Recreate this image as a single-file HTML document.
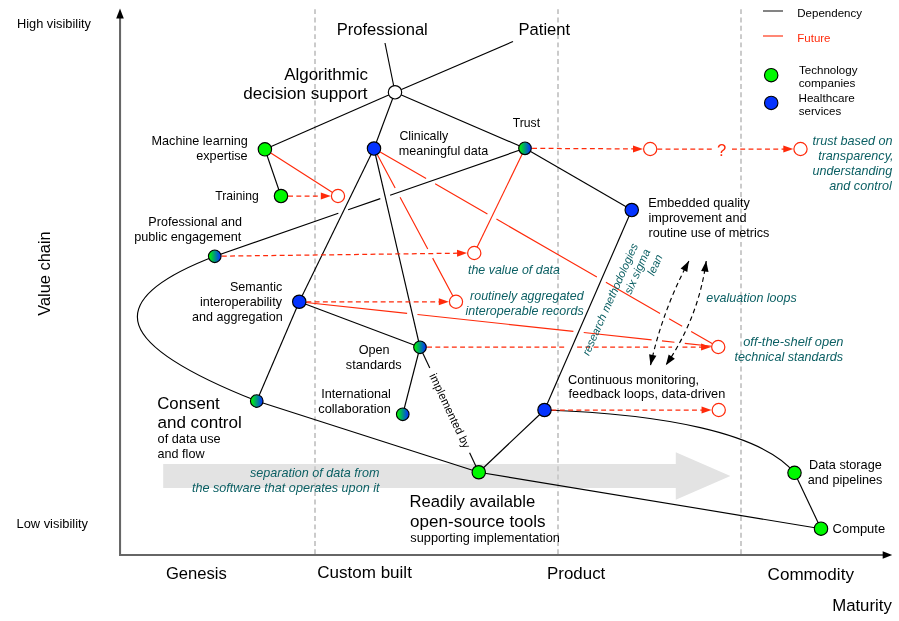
<!DOCTYPE html>
<html><head><meta charset="utf-8"><title>Wardley map</title>
<style>html,body{margin:0;padding:0;background:#fff;}svg{display:block;font-family:"Liberation Sans",sans-serif;will-change:transform;}</style>
</head><body>
<svg width="899" height="621" viewBox="0 0 899 621">
<defs><linearGradient id="gb" x1="0" y1="0" x2="1" y2="0"><stop offset="0.05" stop-color="#00f900"/><stop offset="0.95" stop-color="#0433ff"/></linearGradient></defs>
<rect width="899" height="621" fill="#fff"/>
<polygon points="163.2,464 675.8,464 675.8,452.2 730.4,475.95 675.8,499.7 675.8,487.9 163.2,487.9" fill="#e3e3e3"/>
<line x1="315" y1="9.2" x2="315" y2="553.9" stroke="#cbcbcb" stroke-width="2" stroke-dasharray="4.9 3.41"/>
<line x1="558" y1="9.2" x2="558" y2="553.9" stroke="#cbcbcb" stroke-width="2" stroke-dasharray="4.9 3.41"/>
<line x1="741" y1="9.2" x2="741" y2="553.9" stroke="#cbcbcb" stroke-width="2" stroke-dasharray="4.9 3.41"/>
<path d="M120.05 17V554.9H884" stroke="#666" stroke-width="2.05" fill="none"/>
<polygon points="120,8.6 116.2,18.4 123.8,18.4" fill="#000"/>
<polygon points="892.2,554.95 882.7,551.2 882.7,558.7" fill="#000"/>
<path d="M379.72 151.8L426.11 178.54M435.12 183.74L487.43 213.91M496.44 219.1L596.88 277.01M605.89 282.21L660.08 313.46M669.09 318.65L682.16 326.19M691.17 331.38L712.53 343.7" stroke="#ff2a0a" stroke-width="1.15" fill="none"/>
<path d="M305.81 302.46L407.12 313.4M417.46 314.52L573.39 331.36M583.73 332.47L651.63 339.81M661.97 340.92L674.45 342.27M684.79 343.39L711.69 346.29" stroke="#ff2a0a" stroke-width="1.15" fill="none"/>
<path d="M377.11 154.32L395.16 188.04M400.06 197.21L427.76 248.97M432.66 258.14L452.89 295.93" stroke="#ff2a0a" stroke-width="1.15" fill="none"/>
<line x1="525" y1="148.3" x2="474.25" y2="253" stroke="#ff2a0a" stroke-width="1.15" />
<line x1="264.9" y1="149.3" x2="338" y2="196" stroke="#ff2a0a" stroke-width="1.15" />
<path d="M525 148.3L390.12 195.23M380.3 198.65L348.16 209.83M338.34 213.25L214.75 256.25" stroke="#000" stroke-width="1.15" fill="none"/>
<path d="M214.75 256.25C95.75 301.97 117.17 345.84 256.75 401" stroke="#000" stroke-width="1.15" fill="none"/>
<line x1="256.75" y1="401" x2="478.75" y2="472.25" stroke="#000" stroke-width="1.15" />
<line x1="478.75" y1="472.25" x2="821" y2="528.7" stroke="#000" stroke-width="1.15" />
<path d="M544.5 410C660.6 414 760.7 432.1 794.5 472.8" stroke="#000" stroke-width="1.15" fill="none"/>
<line x1="794.5" y1="472.8" x2="821" y2="528.7" stroke="#000" stroke-width="1.15" />
<line x1="385" y1="43" x2="395" y2="92.25" stroke="#000" stroke-width="1.15" />
<line x1="395" y1="92.25" x2="513" y2="41.5" stroke="#000" stroke-width="1.15" />
<line x1="395" y1="92.25" x2="264.9" y2="149.3" stroke="#000" stroke-width="1.15" />
<line x1="395" y1="92.25" x2="374" y2="148.5" stroke="#000" stroke-width="1.15" />
<line x1="395" y1="92.25" x2="525" y2="148.3" stroke="#000" stroke-width="1.15" />
<line x1="264.9" y1="149.3" x2="281" y2="196" stroke="#000" stroke-width="1.15" />
<line x1="374" y1="148.5" x2="299.25" y2="301.75" stroke="#000" stroke-width="1.15" />
<line x1="374" y1="148.5" x2="420" y2="347.25" stroke="#000" stroke-width="1.15" />
<line x1="299.25" y1="301.75" x2="420" y2="347.25" stroke="#000" stroke-width="1.15" />
<line x1="299.25" y1="301.75" x2="256.75" y2="401" stroke="#000" stroke-width="1.15" />
<line x1="420" y1="347.25" x2="402.75" y2="414.25" stroke="#000" stroke-width="1.15" />
<line x1="525" y1="148.3" x2="631.75" y2="210" stroke="#000" stroke-width="1.15" />
<line x1="631.75" y1="210" x2="544.5" y2="410" stroke="#000" stroke-width="1.15" />
<line x1="544.5" y1="410" x2="478.75" y2="472.25" stroke="#000" stroke-width="1.15" />
<line x1="420" y1="347.25" x2="429.78" y2="368.07" stroke="#000" stroke-width="1.15" />
<line x1="469.6" y1="452.79" x2="478.75" y2="472.25" stroke="#000" stroke-width="1.15" />
<text transform="translate(449.9 410.87) rotate(64.83)" x="0" y="3.9" font-size="11.5" text-anchor="middle" fill="#000">implemented by</text>
<path d="M288.1 196L321.8 196" stroke="#ff2a0a" stroke-width="1.25" stroke-dasharray="4.9 3.36" fill="none"/>
<polygon points="330.8,196 320.8,199.5 320.8,192.5" fill="#ff2a0a"/>
<path d="M221.85 256.16L458.05 253.2" stroke="#ff2a0a" stroke-width="1.25" stroke-dasharray="4.9 3.36" fill="none"/>
<polygon points="467.05,253.09 457.1,256.72 457.01,249.72" fill="#ff2a0a"/>
<path d="M306.35 301.75L439.8 301.75" stroke="#ff2a0a" stroke-width="1.25" stroke-dasharray="4.9 3.36" fill="none"/>
<polygon points="448.8,301.75 438.8,305.25 438.8,298.25" fill="#ff2a0a"/>
<path d="M427.1 347.24L566.73 347.13M577.13 347.12L649.75 347.06M660.15 347.05L672.08 347.04M682.48 347.03L702.05 347.01" stroke="#ff2a0a" stroke-width="1.25" stroke-dasharray="4.9 3.36" fill="none"/>
<polygon points="711.05,347.01 701.05,350.51 701.05,343.51" fill="#ff2a0a"/>
<path d="M532.1 148.34L634 148.91" stroke="#ff2a0a" stroke-width="1.25" stroke-dasharray="4.9 3.36" fill="none"/>
<polygon points="643,148.96 632.98,152.4 633.02,145.4" fill="#ff2a0a"/>
<path d="M551.6 410L702.55 410" stroke="#ff2a0a" stroke-width="1.25" stroke-dasharray="4.9 3.36" fill="none"/>
<polygon points="711.55,410 701.55,413.5 701.55,406.5" fill="#ff2a0a"/>
<line x1="657.3" y1="149" x2="712" y2="149" stroke="#ff2a0a" stroke-width="1.25" stroke-dasharray="4.9 3.36"/>
<line x1="732" y1="149" x2="785" y2="149" stroke="#ff2a0a" stroke-width="1.25" stroke-dasharray="4.9 3.36"/>
<polygon points="793.3,149 783.3,152.5 783.3,145.5" fill="#ff2a0a"/>
<text x="721.6" y="155.9" font-size="16.7" text-anchor="middle" fill="#ff2a0a" >?</text>
<path d="M688.9 261Q662.6 310.3 650.5 365.3" stroke="#000" stroke-width="1.15" fill="none" stroke-dasharray="4.7 3.5"/>
<polygon points="688.9,261 687.27,272.03 680.65,268.5" fill="#000"/>
<polygon points="650.5,365.3 649.09,354.24 656.42,355.85" fill="#000"/>
<path d="M706.2 261Q698.6 317.8 665.8 365.3" stroke="#000" stroke-width="1.15" fill="none" stroke-dasharray="4.7 3.5"/>
<polygon points="706.2,261 708.52,271.9 701.09,270.91" fill="#000"/>
<polygon points="665.8,365.3 668.68,354.53 674.85,358.79" fill="#000"/>
<circle cx="395" cy="92.25" r="6.7" fill="#fff" stroke="#000" stroke-width="1.15"/>
<circle cx="264.9" cy="149.3" r="6.7" fill="#00f900" stroke="#000" stroke-width="1.15"/>
<circle cx="281" cy="196" r="6.7" fill="#00f900" stroke="#000" stroke-width="1.15"/>
<circle cx="338" cy="196" r="6.6" fill="#fff" stroke="#ff2a0a" stroke-width="1.2"/>
<circle cx="374" cy="148.5" r="6.7" fill="#0433ff" stroke="#000" stroke-width="1.15"/>
<circle cx="525" cy="148.3" r="6.3" fill="url(#gb)" stroke="#000" stroke-width="1.15"/>
<circle cx="650.2" cy="149" r="6.6" fill="#fff" stroke="#ff2a0a" stroke-width="1.2"/>
<circle cx="800.5" cy="149" r="6.6" fill="#fff" stroke="#ff2a0a" stroke-width="1.2"/>
<circle cx="214.75" cy="256.25" r="6.3" fill="url(#gb)" stroke="#000" stroke-width="1.15"/>
<circle cx="474.25" cy="253" r="6.6" fill="#fff" stroke="#ff2a0a" stroke-width="1.2"/>
<circle cx="299.25" cy="301.75" r="6.7" fill="#0433ff" stroke="#000" stroke-width="1.15"/>
<circle cx="456" cy="301.75" r="6.6" fill="#fff" stroke="#ff2a0a" stroke-width="1.2"/>
<circle cx="420" cy="347.25" r="6.3" fill="url(#gb)" stroke="#000" stroke-width="1.15"/>
<circle cx="718.25" cy="347" r="6.6" fill="#fff" stroke="#ff2a0a" stroke-width="1.2"/>
<circle cx="402.75" cy="414.25" r="6.3" fill="url(#gb)" stroke="#000" stroke-width="1.15"/>
<circle cx="256.75" cy="401" r="6.3" fill="url(#gb)" stroke="#000" stroke-width="1.15"/>
<circle cx="478.75" cy="472.25" r="6.7" fill="#00f900" stroke="#000" stroke-width="1.15"/>
<circle cx="544.5" cy="410" r="6.7" fill="#0433ff" stroke="#000" stroke-width="1.15"/>
<circle cx="718.75" cy="410" r="6.6" fill="#fff" stroke="#ff2a0a" stroke-width="1.2"/>
<circle cx="631.75" cy="210" r="6.7" fill="#0433ff" stroke="#000" stroke-width="1.15"/>
<circle cx="794.5" cy="472.8" r="6.7" fill="#00f900" stroke="#000" stroke-width="1.15"/>
<circle cx="821" cy="528.7" r="6.7" fill="#00f900" stroke="#000" stroke-width="1.15"/>
<line x1="763" y1="11" x2="783" y2="11" stroke="#666" stroke-width="1.6"/>
<line x1="763" y1="36" x2="783" y2="36" stroke="#ff2a0a" stroke-width="1.4" opacity="0.8"/>
<text x="797.28" y="16.6" font-size="11.5" text-anchor="start" fill="#000" textLength="64.73" lengthAdjust="spacingAndGlyphs" >Dependency</text>
<text x="797.28" y="41.6" font-size="11.5" text-anchor="start" fill="#ff2a0a" textLength="33.24" lengthAdjust="spacingAndGlyphs" >Future</text>
<circle cx="771.2" cy="75.2" r="6.7" fill="#00f900" stroke="#000" stroke-width="1.15"/>
<circle cx="771.2" cy="102.9" r="6.7" fill="#0433ff" stroke="#000" stroke-width="1.15"/>
<text x="798.97" y="74.2" font-size="11.5" text-anchor="start" fill="#000" textLength="58.52" lengthAdjust="spacingAndGlyphs" >Technology</text>
<text x="798.73" y="86.7" font-size="11.5" text-anchor="start" fill="#000" textLength="56.69" lengthAdjust="spacingAndGlyphs" >companies</text>
<text x="798.47" y="102.2" font-size="11.5" text-anchor="start" fill="#000" textLength="56.37" lengthAdjust="spacingAndGlyphs" >Healthcare</text>
<text x="798.85" y="114.7" font-size="11.5" text-anchor="start" fill="#000" textLength="42.32" lengthAdjust="spacingAndGlyphs" >services</text>
<text x="16.98" y="27.7" font-size="12.55" text-anchor="start" fill="#000" textLength="74.02" lengthAdjust="spacingAndGlyphs" >High visibility</text>
<text x="16.47" y="528" font-size="12.55" text-anchor="start" fill="#000" textLength="71.56" lengthAdjust="spacingAndGlyphs" >Low visibility</text>
<text transform="translate(49.7 315.78) rotate(-90)" x="0" y="0" font-size="16.7" textLength="84.48" lengthAdjust="spacingAndGlyphs" fill="#000">Value chain</text>
<text x="165.92" y="578.8" font-size="16.7" text-anchor="start" fill="#000" textLength="60.89" lengthAdjust="spacingAndGlyphs" >Genesis</text>
<text x="317.25" y="578" font-size="16.7" text-anchor="start" fill="#000" textLength="94.63" lengthAdjust="spacingAndGlyphs" >Custom built</text>
<text x="547.05" y="579" font-size="16.7" text-anchor="start" fill="#000" textLength="58.26" lengthAdjust="spacingAndGlyphs" >Product</text>
<text x="767.55" y="579.7" font-size="16.7" text-anchor="start" fill="#000" textLength="86.38" lengthAdjust="spacingAndGlyphs" >Commodity</text>
<text x="832.16" y="611" font-size="16.7" text-anchor="start" fill="#000" textLength="59.66" lengthAdjust="spacingAndGlyphs" >Maturity</text>
<text x="336.67" y="35" font-size="16.7" text-anchor="start" fill="#000" textLength="91.15" lengthAdjust="spacingAndGlyphs" >Professional</text>
<text x="518.58" y="35" font-size="16.7" text-anchor="start" fill="#000" textLength="51.56" lengthAdjust="spacingAndGlyphs" >Patient</text>
<text x="284.25" y="80" font-size="16.7" text-anchor="start" fill="#000" textLength="83.69" lengthAdjust="spacingAndGlyphs" >Algorithmic</text>
<text x="243.32" y="99.3" font-size="16.7" text-anchor="start" fill="#000" textLength="124.31" lengthAdjust="spacingAndGlyphs" >decision support</text>
<text x="151.49" y="145" font-size="12.55" text-anchor="start" fill="#000" textLength="96.35" lengthAdjust="spacingAndGlyphs" >Machine learning</text>
<text x="196.24" y="160" font-size="12.55" text-anchor="start" fill="#000" textLength="51.36" lengthAdjust="spacingAndGlyphs" >expertise</text>
<text x="215.26" y="200" font-size="12.55" text-anchor="start" fill="#000" textLength="43.55" lengthAdjust="spacingAndGlyphs" >Training</text>
<text x="148.39" y="225.6" font-size="12.55" text-anchor="start" fill="#000" textLength="93.67" lengthAdjust="spacingAndGlyphs" >Professional and</text>
<text x="134.18" y="240.8" font-size="12.55" text-anchor="start" fill="#000" textLength="107.15" lengthAdjust="spacingAndGlyphs" >public engagement</text>
<text x="399.38" y="140" font-size="12.55" text-anchor="start" fill="#000" textLength="48.82" lengthAdjust="spacingAndGlyphs" >Clinically</text>
<text x="398.78" y="155" font-size="12.55" text-anchor="start" fill="#000" textLength="89.54" lengthAdjust="spacingAndGlyphs" >meaningful data</text>
<text x="512.76" y="127" font-size="12.55" text-anchor="start" fill="#000" textLength="27.31" lengthAdjust="spacingAndGlyphs" >Trust</text>
<text x="648.23" y="206.8" font-size="12.55" text-anchor="start" fill="#000" textLength="101.77" lengthAdjust="spacingAndGlyphs" >Embedded quality</text>
<text x="648.42" y="221.9" font-size="12.55" text-anchor="start" fill="#000" textLength="98.17" lengthAdjust="spacingAndGlyphs" >improvement and</text>
<text x="648.43" y="236.6" font-size="12.55" text-anchor="start" fill="#000" textLength="121.01" lengthAdjust="spacingAndGlyphs" >routine use of metrics</text>
<text x="229.93" y="290.6" font-size="12.55" text-anchor="start" fill="#000" textLength="52.36" lengthAdjust="spacingAndGlyphs" >Semantic</text>
<text x="199.93" y="305.8" font-size="12.55" text-anchor="start" fill="#000" textLength="82.05" lengthAdjust="spacingAndGlyphs" >interoperability</text>
<text x="192" y="320.8" font-size="12.55" text-anchor="start" fill="#000" textLength="90.8" lengthAdjust="spacingAndGlyphs" >and aggregation</text>
<text x="358.68" y="353.5" font-size="12.55" text-anchor="start" fill="#000" textLength="30.91" lengthAdjust="spacingAndGlyphs" >Open</text>
<text x="345.87" y="368.5" font-size="12.55" text-anchor="start" fill="#000" textLength="55.85" lengthAdjust="spacingAndGlyphs" >standards</text>
<text x="321.16" y="398" font-size="12.55" text-anchor="start" fill="#000" textLength="69.71" lengthAdjust="spacingAndGlyphs" >International</text>
<text x="318.24" y="412.6" font-size="12.55" text-anchor="start" fill="#000" textLength="72.6" lengthAdjust="spacingAndGlyphs" >collaboration</text>
<text x="568.11" y="383.8" font-size="12.55" text-anchor="start" fill="#000" textLength="131.02" lengthAdjust="spacingAndGlyphs" >Continuous monitoring,</text>
<text x="568.56" y="397.6" font-size="12.55" text-anchor="start" fill="#000" textLength="156.78" lengthAdjust="spacingAndGlyphs" >feedback loops, data-driven</text>
<text x="808.98" y="468.8" font-size="12.55" text-anchor="start" fill="#000" textLength="72.85" lengthAdjust="spacingAndGlyphs" >Data storage</text>
<text x="807.74" y="483.8" font-size="12.55" text-anchor="start" fill="#000" textLength="74.68" lengthAdjust="spacingAndGlyphs" >and pipelines</text>
<text x="832.6" y="532.6" font-size="12.55" text-anchor="start" fill="#000" textLength="52.51" lengthAdjust="spacingAndGlyphs" >Compute</text>
<text x="157.26" y="409" font-size="16.7" text-anchor="start" fill="#000" textLength="62.5" lengthAdjust="spacingAndGlyphs" >Consent</text>
<text x="157.42" y="428" font-size="16.7" text-anchor="start" fill="#000" textLength="84.44" lengthAdjust="spacingAndGlyphs" >and control</text>
<text x="157.59" y="443" font-size="12.55" text-anchor="start" fill="#000" textLength="63.02" lengthAdjust="spacingAndGlyphs" >of data use</text>
<text x="157.6" y="458" font-size="12.55" text-anchor="start" fill="#000" textLength="46.94" lengthAdjust="spacingAndGlyphs" >and flow</text>
<text x="409.42" y="507" font-size="16.7" text-anchor="start" fill="#000" textLength="125.84" lengthAdjust="spacingAndGlyphs" >Readily available</text>
<text x="410.07" y="527" font-size="16.7" text-anchor="start" fill="#000" textLength="135.52" lengthAdjust="spacingAndGlyphs" >open-source tools</text>
<text x="410.37" y="542" font-size="12.55" text-anchor="start" fill="#000" textLength="149.45" lengthAdjust="spacingAndGlyphs" >supporting implementation</text>
<text x="812.43" y="145" font-size="12.55" text-anchor="start" fill="#0b5f63" font-style="italic" textLength="80.17" lengthAdjust="spacingAndGlyphs" >trust based on</text>
<text x="818.18" y="160" font-size="12.55" text-anchor="start" fill="#0b5f63" font-style="italic" textLength="75.32" lengthAdjust="spacingAndGlyphs" >transparency,</text>
<text x="812.5" y="175" font-size="12.55" text-anchor="start" fill="#0b5f63" font-style="italic" textLength="79.67" lengthAdjust="spacingAndGlyphs" >understanding</text>
<text x="829.25" y="190" font-size="12.55" text-anchor="start" fill="#0b5f63" font-style="italic" textLength="62.47" lengthAdjust="spacingAndGlyphs" >and control</text>
<text x="467.94" y="273.7" font-size="12.55" text-anchor="start" fill="#0b5f63" font-style="italic" textLength="91.99" lengthAdjust="spacingAndGlyphs" >the value of data</text>
<text x="470.11" y="300" font-size="12.55" text-anchor="start" fill="#0b5f63" font-style="italic" textLength="113.55" lengthAdjust="spacingAndGlyphs" >routinely aggregated</text>
<text x="465.51" y="315" font-size="12.55" text-anchor="start" fill="#0b5f63" font-style="italic" textLength="118.14" lengthAdjust="spacingAndGlyphs" >interoperable records</text>
<text x="706.36" y="302" font-size="12.55" text-anchor="start" fill="#0b5f63" font-style="italic" textLength="90.36" lengthAdjust="spacingAndGlyphs" >evaluation loops</text>
<text x="743.21" y="345.7" font-size="12.55" text-anchor="start" fill="#0b5f63" font-style="italic" textLength="100.3" lengthAdjust="spacingAndGlyphs" >off-the-shelf open</text>
<text x="734.43" y="361" font-size="12.55" text-anchor="start" fill="#0b5f63" font-style="italic" textLength="108.74" lengthAdjust="spacingAndGlyphs" >technical standards</text>
<text x="249.94" y="477" font-size="12.55" text-anchor="start" fill="#0b5f63" font-style="italic" textLength="129.48" lengthAdjust="spacingAndGlyphs" >separation of data from</text>
<text x="191.93" y="492" font-size="12.55" text-anchor="start" fill="#0b5f63" font-style="italic" textLength="187.6" lengthAdjust="spacingAndGlyphs" >the software that operates upon it</text>
<g transform="translate(638.2 245.6) rotate(-66)" font-size="11.5" font-style="italic" fill="#0b5f63" text-anchor="end">
<text x="0" y="0" font-size="11.35">research methodologies</text>
<text x="0" y="13.5">six sigma</text>
<text x="0" y="27">lean</text>
</g>
</svg></body></html>
